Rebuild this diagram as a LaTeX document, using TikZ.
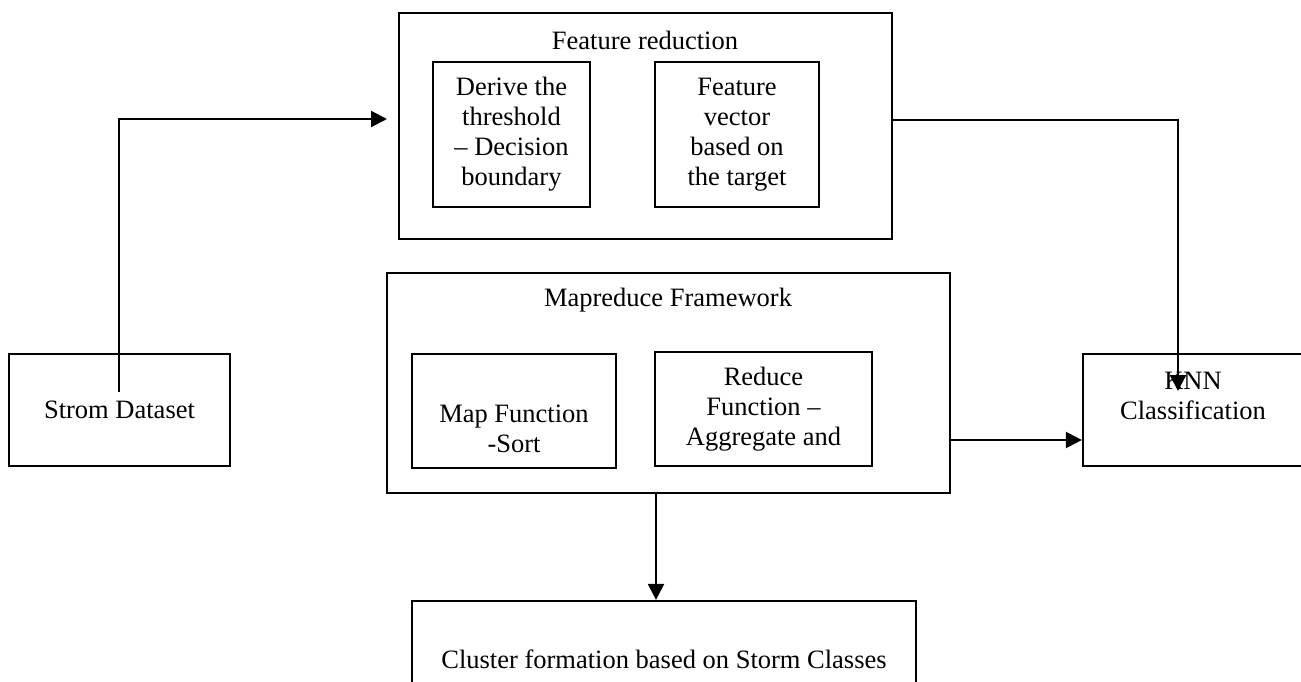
\documentclass[tikz,border=0pt]{standalone}
\usepackage{fontspec}
\setmainfont{Liberation Serif}
\usetikzlibrary{arrows.meta}
\begin{document}
\begin{tikzpicture}[x=1pt,y=-1pt,
  box/.style={draw,line width=2.2pt,inner sep=0pt,align=center,font=\fontsize{26.5}{30}\selectfont},
  txt/.style={inner sep=0pt,align=center,font=\fontsize{26.5}{30}\selectfont},
  conn/.style={line width=2.2pt,-{Triangle[length=16pt,width=16pt]}}]
\useasboundingbox (0,0) rectangle (1301,682);
% boxes
\node[box,minimum width=493pt,minimum height=226pt] (fr) at (645.5,126) {};
\node[txt] (frt) at (645,40) {Feature reduction};
\node[box,minimum width=157pt,minimum height=145pt] (d1) at (511.5,134.5) {Derive the\\threshold\\– Decision\\boundary};
\node[box,minimum width=164pt,minimum height=145pt] (d2) at (737,134.5) {Feature\\vector\\based on\\the target};
\node[box,minimum width=563pt,minimum height=220pt] (mr) at (668.5,383) {};
\node[txt] (mrt) at (668,300) {Mapreduce Framework};
\node[box,minimum width=204pt,minimum height=114pt] (map) at (514,411) {};
\node[txt] (mapt) at (514,429) {Map Function\\-Sort};
\node[box,minimum width=217pt,minimum height=114pt] (red) at (763.5,409) {Reduce\\Function –\\Aggregate and};
\node[box,minimum width=221pt,minimum height=112pt] (strom) at (119.5,410) {Strom Dataset};
\node[box,minimum width=220pt,minimum height=112pt] (knn) at (1193,410) {};
\node[txt] (knnt) at (1193,396) {KNN\\Classification};
\node[box,minimum width=504pt,minimum height=100pt] (cl) at (664,651) {};
\node[txt] (clt) at (664,659) {Cluster formation based on Storm Classes};
% connector end points
\coordinate (s0) at (119,392);
\coordinate (s1) at (387,119);
\coordinate (k0) at (1178,391);
% connectors
\draw[conn] (s0) |- (s1);
\draw[conn] (fr.east |- 0,120) -| (k0);
\draw[conn] (mr.east |- 0,440) -- (knn.west |- 0,440);
\draw[conn] (mr.south -| 656,0) -- (cl.north -| 656,0);
\end{tikzpicture}
\end{document}
